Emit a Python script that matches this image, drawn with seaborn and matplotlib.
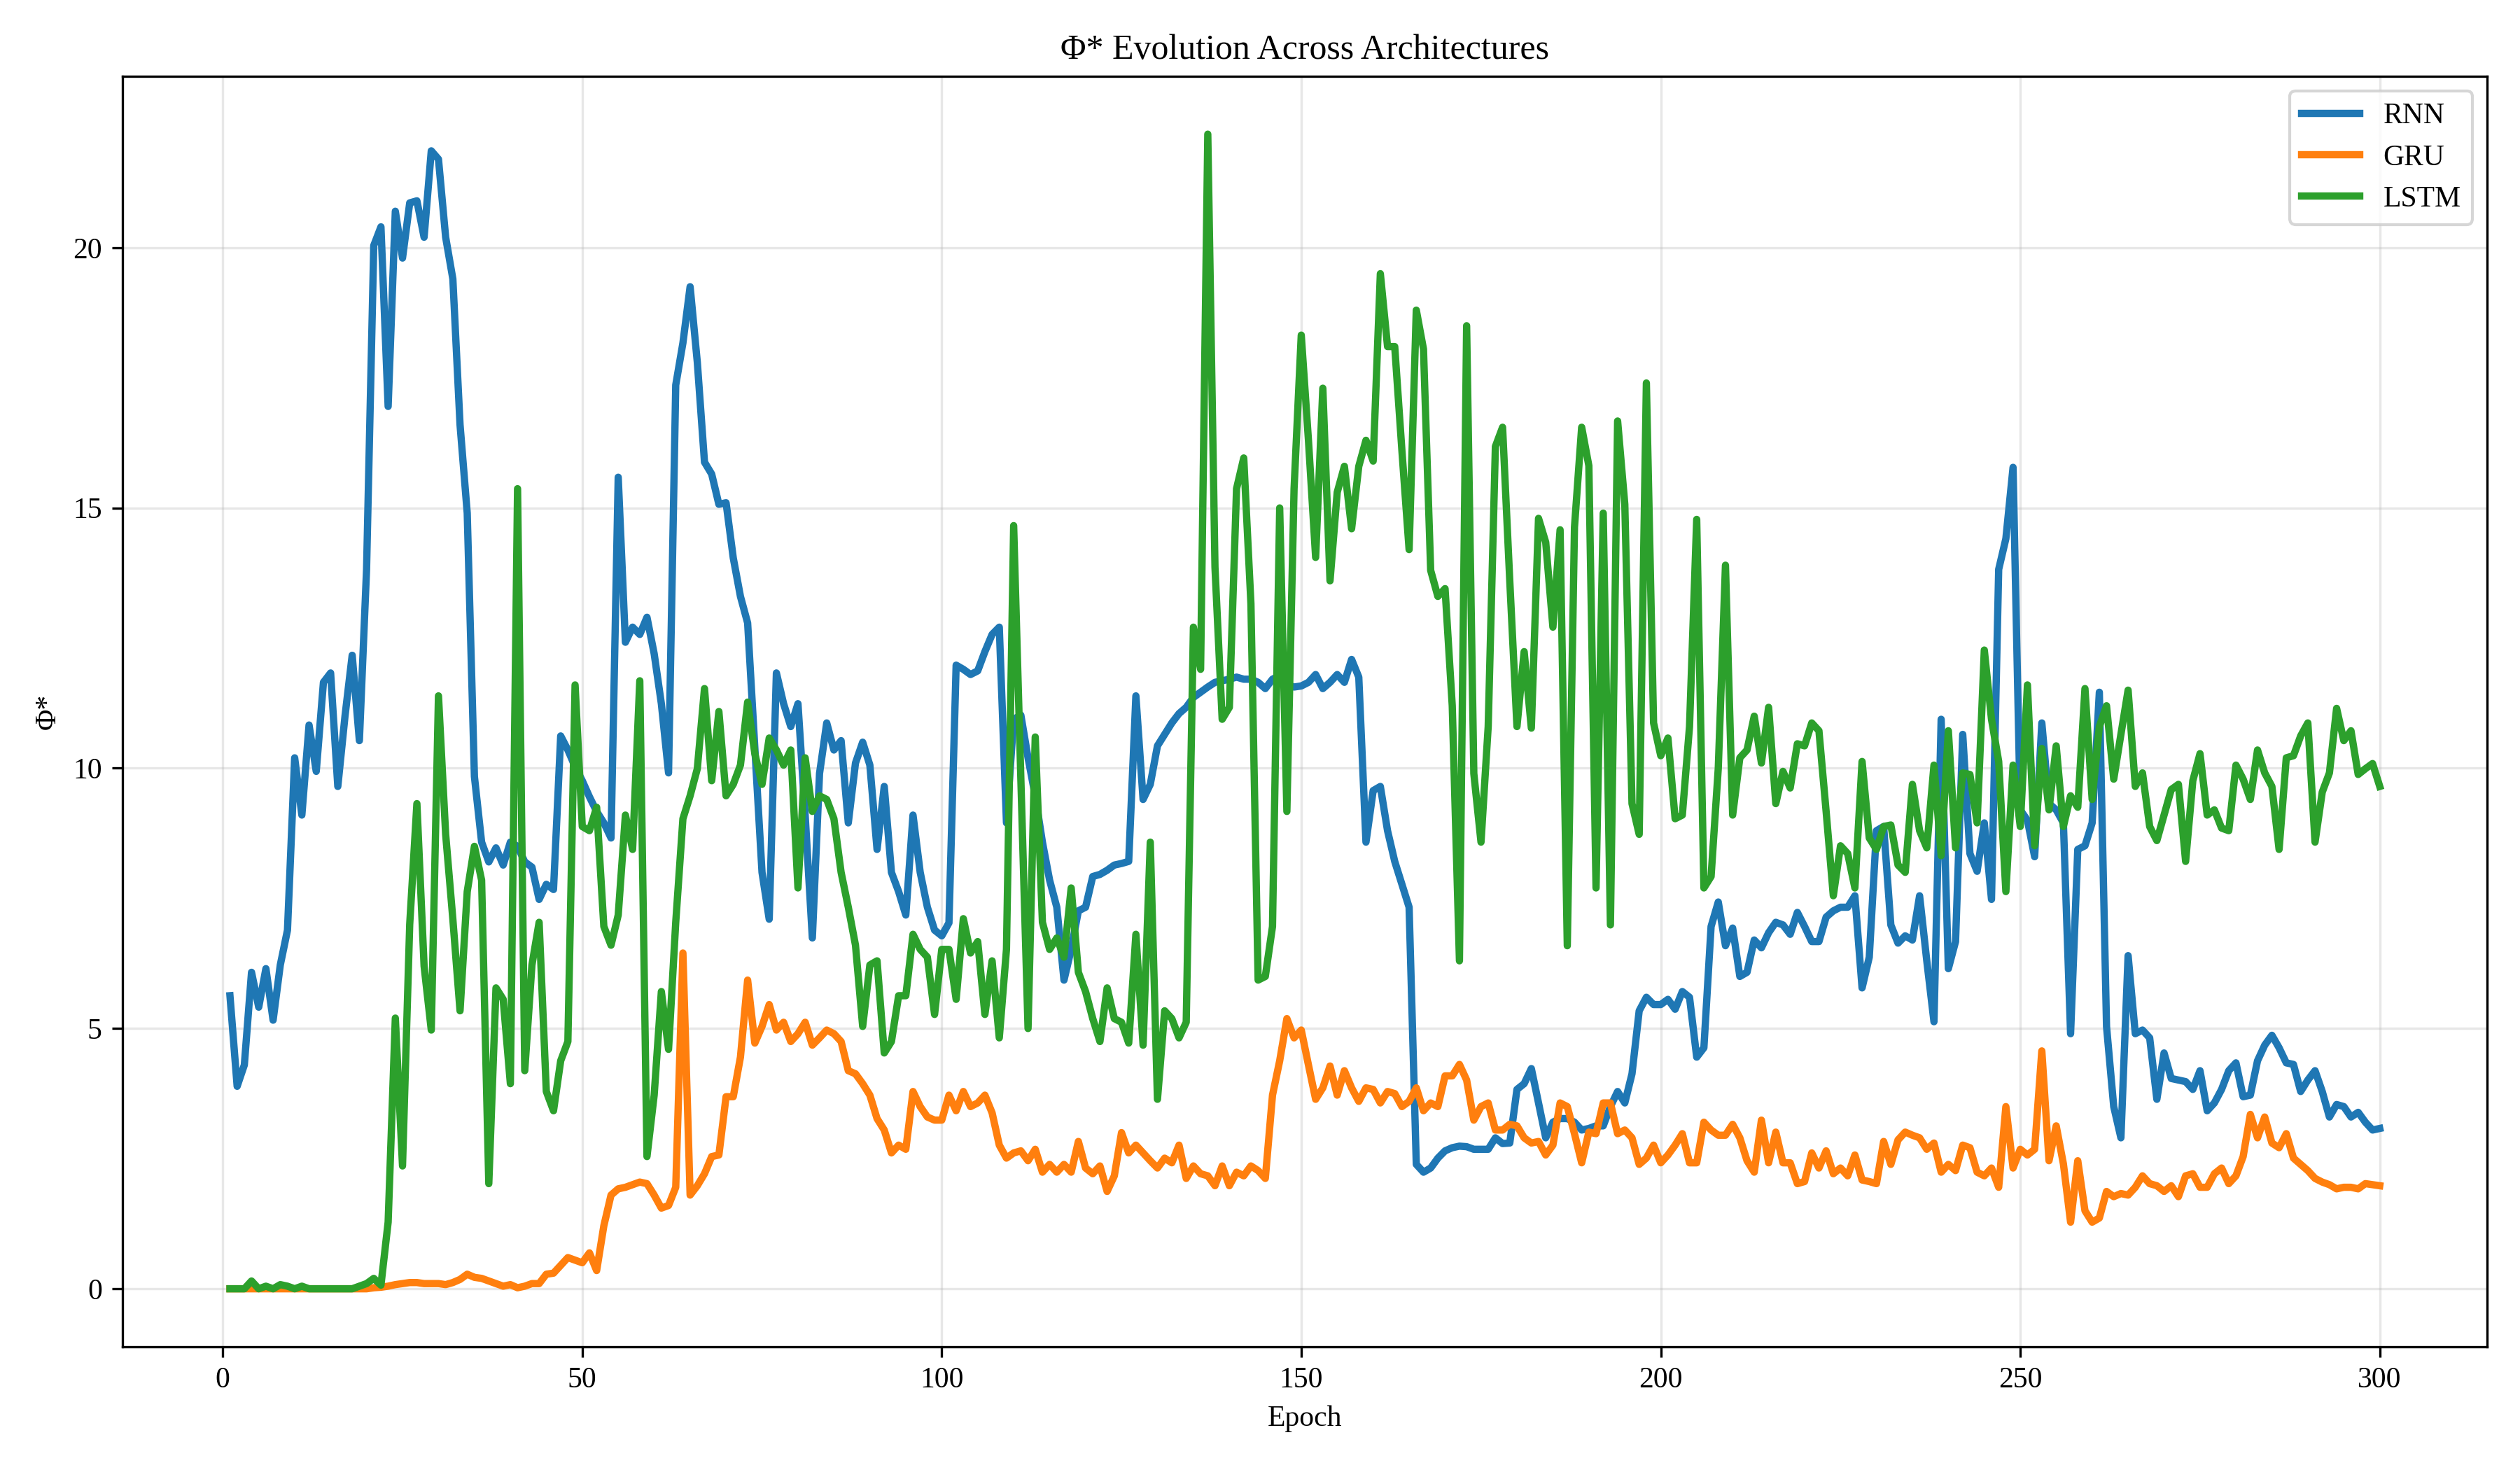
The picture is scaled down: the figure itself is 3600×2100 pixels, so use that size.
import numpy as np
import pandas as pd
import matplotlib
matplotlib.use("Agg")
import matplotlib.pyplot as plt
import seaborn as sns

epochs = list(range(1, 301))

rnn = [
    5.63, 3.89, 4.30, 6.08, 5.41, 6.15, 5.16, 6.22, 6.89, 10.20,
    9.10, 10.83, 9.94, 11.65, 11.83, 9.65, 11.00, 12.17, 10.53, 13.82,
    20.04, 20.40, 16.95, 20.70, 19.80, 20.86, 20.90, 20.20, 21.86, 21.70,
    20.20, 19.40, 16.60, 14.90, 9.84, 8.58, 8.20, 8.47, 8.14, 8.58,
    8.50, 8.20, 8.10, 7.48, 7.77, 7.67, 10.62, 10.35, 10.03, 9.76,
    9.45, 9.17, 8.95, 8.66, 15.59, 12.42, 12.71, 12.57, 12.90, 12.20,
    11.24, 9.91, 17.36, 18.17, 19.25, 17.80, 15.88, 15.65, 15.07, 15.10,
    14.04, 13.30, 12.79, 10.40, 8.00, 7.10, 11.83, 11.24, 10.80, 11.24,
    9.10, 6.74, 9.90, 10.87, 10.35, 10.53, 8.95, 10.10, 10.50, 10.06,
    8.44, 9.65, 8.00, 7.63, 7.18, 9.10, 8.00, 7.33, 6.89, 6.78,
    7.03, 11.98, 11.90, 11.80, 11.87, 12.24, 12.57, 12.71, 8.95, 10.94,
    11.02, 10.20, 9.47, 8.58, 7.85, 7.33, 5.93, 6.52, 7.26, 7.33,
    7.92, 7.96, 8.04, 8.14, 8.17, 8.21, 11.39, 9.40, 9.69, 10.43,
    10.65, 10.87, 11.05, 11.17, 11.36, 11.46, 11.56, 11.65, 11.68, 11.71,
    11.75, 11.71, 11.71, 11.65, 11.53, 11.71, 11.78, 11.60, 11.56, 11.58,
    11.65, 11.80, 11.53, 11.65, 11.80, 11.65, 12.09, 11.75, 8.58, 9.57,
    9.65, 8.80, 8.21, 7.77, 7.33, 2.39, 2.24, 2.32, 2.51, 2.65,
    2.71, 2.74, 2.73, 2.68, 2.68, 2.68, 2.90, 2.79, 2.80, 3.83,
    3.94, 4.23, 3.57, 2.90, 3.20, 3.27, 3.27, 3.20, 3.05, 3.08,
    3.13, 3.13, 3.50, 3.79, 3.57, 4.13, 5.34, 5.60, 5.46, 5.46,
    5.56, 5.37, 5.71, 5.60, 4.45, 4.63, 6.96, 7.43, 6.59, 6.93,
    6.00, 6.08, 6.70, 6.55, 6.84, 7.04, 6.99, 6.81, 7.23, 6.96,
    6.67, 6.67, 7.14, 7.26, 7.33, 7.33, 7.55, 5.78, 6.37, 8.80,
    8.88, 6.99, 6.64, 6.78, 6.70, 7.55, 6.30, 5.13, 10.94, 6.15,
    6.67, 10.65, 8.36, 8.02, 8.95, 7.48, 13.82, 14.41, 15.78, 9.20,
    9.00, 8.30, 10.87, 9.32, 9.20, 8.95, 4.90, 8.44, 8.51, 8.95,
    11.46, 5.04, 3.50, 2.90, 6.40, 4.90, 4.97, 4.82, 3.64, 4.53,
    4.04, 4.01, 3.98, 3.83, 4.19, 3.42, 3.57, 3.83, 4.19, 4.34,
    3.69, 3.72, 4.38, 4.68, 4.87, 4.63, 4.34, 4.31, 3.79, 4.01,
    4.19, 3.79, 3.30, 3.54, 3.50, 3.30, 3.39, 3.20, 3.05, 3.08,
]

gru = [
    0.00, 0.00, 0.00, 0.00, 0.00, 0.00, 0.00, 0.00, 0.00, 0.00,
    0.00, 0.00, 0.00, 0.00, 0.00, 0.00, 0.00, 0.00, 0.00, 0.00,
    0.02, 0.03, 0.05, 0.08, 0.10, 0.12, 0.12, 0.10, 0.10, 0.10,
    0.08, 0.12, 0.18, 0.28, 0.22, 0.20, 0.15, 0.10, 0.05, 0.08,
    0.02, 0.05, 0.10, 0.10, 0.28, 0.30, 0.45, 0.60, 0.55, 0.50,
    0.69, 0.35, 1.21, 1.80, 1.92, 1.95, 2.00, 2.05, 2.02, 1.80,
    1.55, 1.60, 1.95, 6.45, 1.80, 1.98, 2.21, 2.54, 2.57, 3.69,
    3.69, 4.45, 5.93, 4.72, 5.04, 5.46, 4.97, 5.12, 4.75, 4.90,
    5.12, 4.68, 4.82, 4.97, 4.90, 4.75, 4.19, 4.13, 3.94, 3.72,
    3.27, 3.05, 2.61, 2.76, 2.68, 3.79, 3.50, 3.30, 3.24, 3.24,
    3.72, 3.42, 3.79, 3.50, 3.57, 3.72, 3.38, 2.76, 2.51, 2.61,
    2.65, 2.46, 2.68, 2.24, 2.39, 2.24, 2.39, 2.24, 2.83, 2.32,
    2.21, 2.36, 1.87, 2.17, 3.00, 2.61, 2.76, 2.61, 2.46, 2.32,
    2.51, 2.42, 2.76, 2.12, 2.36, 2.21, 2.17, 1.98, 2.36, 1.98,
    2.24, 2.17, 2.36, 2.27, 2.12, 3.72, 4.38, 5.19, 4.82, 4.97,
    4.30, 3.64, 3.86, 4.28, 3.72, 4.19, 3.86, 3.60, 3.86, 3.83,
    3.57, 3.79, 3.75, 3.50, 3.60, 3.86, 3.42, 3.57, 3.50, 4.09,
    4.09, 4.31, 4.01, 3.24, 3.50, 3.57, 3.05, 3.05, 3.16, 3.13,
    2.90, 2.80, 2.83, 2.57, 2.76, 3.57, 3.50, 2.98, 2.42, 3.01,
    2.98, 3.57, 3.57, 2.98, 3.05, 2.90, 2.39, 2.51, 2.76, 2.42,
    2.57, 2.76, 2.98, 2.42, 2.42, 3.20, 3.05, 2.95, 2.95, 3.16,
    2.90, 2.46, 2.24, 3.24, 2.42, 3.01, 2.42, 2.42, 2.02, 2.06,
    2.61, 2.32, 2.65, 2.21, 2.32, 2.17, 2.57, 2.09, 2.06, 2.02,
    2.83, 2.39, 2.86, 3.01, 2.95, 2.90, 2.68, 2.80, 2.24, 2.39,
    2.27, 2.76, 2.71, 2.24, 2.17, 2.32, 1.95, 3.50, 2.32, 2.68,
    2.57, 2.68, 4.57, 2.46, 3.13, 2.40, 1.28, 2.46, 1.50, 1.28,
    1.36, 1.87, 1.77, 1.83, 1.80, 1.95, 2.17, 2.02, 1.98, 1.87,
    1.98, 1.77, 2.17, 2.21, 1.95, 1.95, 2.21, 2.32, 2.02, 2.17,
    2.54, 3.35, 2.90, 3.30, 2.80, 2.71, 2.98, 2.51, 2.39, 2.27,
    2.12, 2.05, 2.00, 1.92, 1.95, 1.95, 1.92, 2.02, 2.00, 1.98,
]

lstm = [
    0.00, 0.00, 0.00, 0.15, 0.00, 0.05, 0.00, 0.08, 0.05, 0.00,
    0.05, 0.00, 0.00, 0.00, 0.00, 0.00, 0.00, 0.00, 0.05, 0.10,
    0.20, 0.07, 1.28, 5.20, 2.36, 7.00, 9.32, 6.20, 4.97, 11.39,
    8.73, 7.10, 5.34, 7.63, 8.50, 7.85, 2.02, 5.78, 5.56, 3.94,
    15.37, 4.19, 6.22, 7.04, 3.79, 3.42, 4.38, 4.75, 11.60, 8.88,
    8.80, 9.25, 6.96, 6.60, 7.18, 9.10, 8.44, 11.68, 2.54, 3.72,
    5.71, 4.60, 7.04, 9.03, 9.47, 9.99, 11.53, 9.76, 11.09, 9.47,
    9.69, 10.06, 11.27, 10.28, 9.69, 10.58, 10.35, 10.06, 10.35, 7.70,
    10.20, 9.17, 9.47, 9.40, 9.03, 8.00, 7.33, 6.60, 5.04, 6.22,
    6.30, 4.53, 4.75, 5.63, 5.63, 6.81, 6.52, 6.37, 5.27, 6.52,
    6.52, 5.56, 7.11, 6.45, 6.67, 5.27, 6.30, 4.82, 6.52, 14.66,
    9.80, 5.00, 10.60, 7.04, 6.52, 6.74, 6.37, 7.70, 6.08, 5.71,
    5.19, 4.75, 5.78, 5.19, 5.12, 4.72, 6.81, 4.68, 8.58, 3.64,
    5.34, 5.19, 4.82, 5.12, 12.71, 11.90, 22.18, 13.86, 10.94, 11.17,
    15.37, 15.96, 13.16, 5.93, 6.00, 6.96, 15.00, 9.17, 15.37, 18.32,
    16.30, 14.05, 17.30, 13.60, 15.30, 15.80, 14.60, 15.80, 16.30, 15.90,
    19.50, 18.10, 18.10, 16.10, 14.20, 18.80, 18.05, 13.80, 13.30, 13.45,
    11.20, 6.30, 18.50, 9.90, 8.58, 10.80, 16.18, 16.55, 13.60, 10.80,
    12.24, 10.77, 14.80, 14.34, 12.71, 14.58, 6.59, 14.63, 16.55, 15.81,
    7.70, 14.90, 6.99, 16.67, 15.07, 9.32, 8.73, 17.40, 10.87, 10.24,
    10.58, 9.03, 9.10, 10.80, 14.78, 7.70, 7.92, 10.00, 13.90, 9.10,
    10.20, 10.35, 11.00, 10.10, 11.17, 9.32, 9.94, 9.62, 10.47, 10.43,
    10.87, 10.72, 9.17, 7.55, 8.51, 8.36, 7.70, 10.13, 8.66, 8.44,
    8.88, 8.91, 8.14, 8.00, 9.69, 8.80, 8.47, 10.06, 8.32, 10.72,
    8.47, 9.91, 9.88, 8.95, 12.27, 10.94, 10.13, 7.63, 10.06, 8.88,
    11.60, 8.51, 10.38, 9.20, 10.43, 8.88, 9.47, 9.25, 11.53, 9.40,
    10.80, 11.20, 9.79, 10.65, 11.50, 9.65, 9.91, 8.88, 8.61, 9.10,
    9.59, 9.69, 8.21, 9.76, 10.28, 9.10, 9.20, 8.85, 8.80, 10.06,
    9.79, 9.40, 10.35, 9.91, 9.65, 8.44, 10.20, 10.24, 10.62, 10.87,
    8.58, 9.54, 9.91, 11.15, 10.53, 10.72, 9.88, 9.99, 10.09, 9.65,
]

architectures = ["RNN", "GRU", "LSTM"]
colors = ["#1f77b4", "#ff7f0e", "#2ca02c"]

df = pd.concat([
    pd.DataFrame({"Epoch": epochs, "Phi": vals, "Architecture": name})
    for name, vals in zip(architectures, [rnn, gru, lstm])
], ignore_index=True)

plt.rcParams["font.family"] = "serif"
plt.rcParams["font.serif"] = ["Liberation Serif", "DejaVu Serif"]

fig, ax = plt.subplots(figsize=(12, 7), dpi=300)
sns.lineplot(data=df, x="Epoch", y="Phi", hue="Architecture",
             hue_order=architectures, palette=colors, linewidth=2.5, ax=ax)

ax.set_title("Φ* Evolution Across Architectures", fontsize=12)
ax.set_xlabel("Epoch", fontsize=10)
ax.set_ylabel("Φ*", fontsize=10)
ax.grid(True, alpha=0.3)
ax.set_axisbelow(True)
handles, labels = ax.get_legend_handles_labels()
ax.legend(handles, labels, loc="upper right", fontsize=10)
ax.set_yticks([0, 5, 10, 15, 20])
ax.set_xticks([0, 50, 100, 150, 200, 250, 300])

fig.subplots_adjust(left=0.0486, right=0.987, top=0.948, bottom=0.084)
fig.savefig("out.png", dpi=300)
